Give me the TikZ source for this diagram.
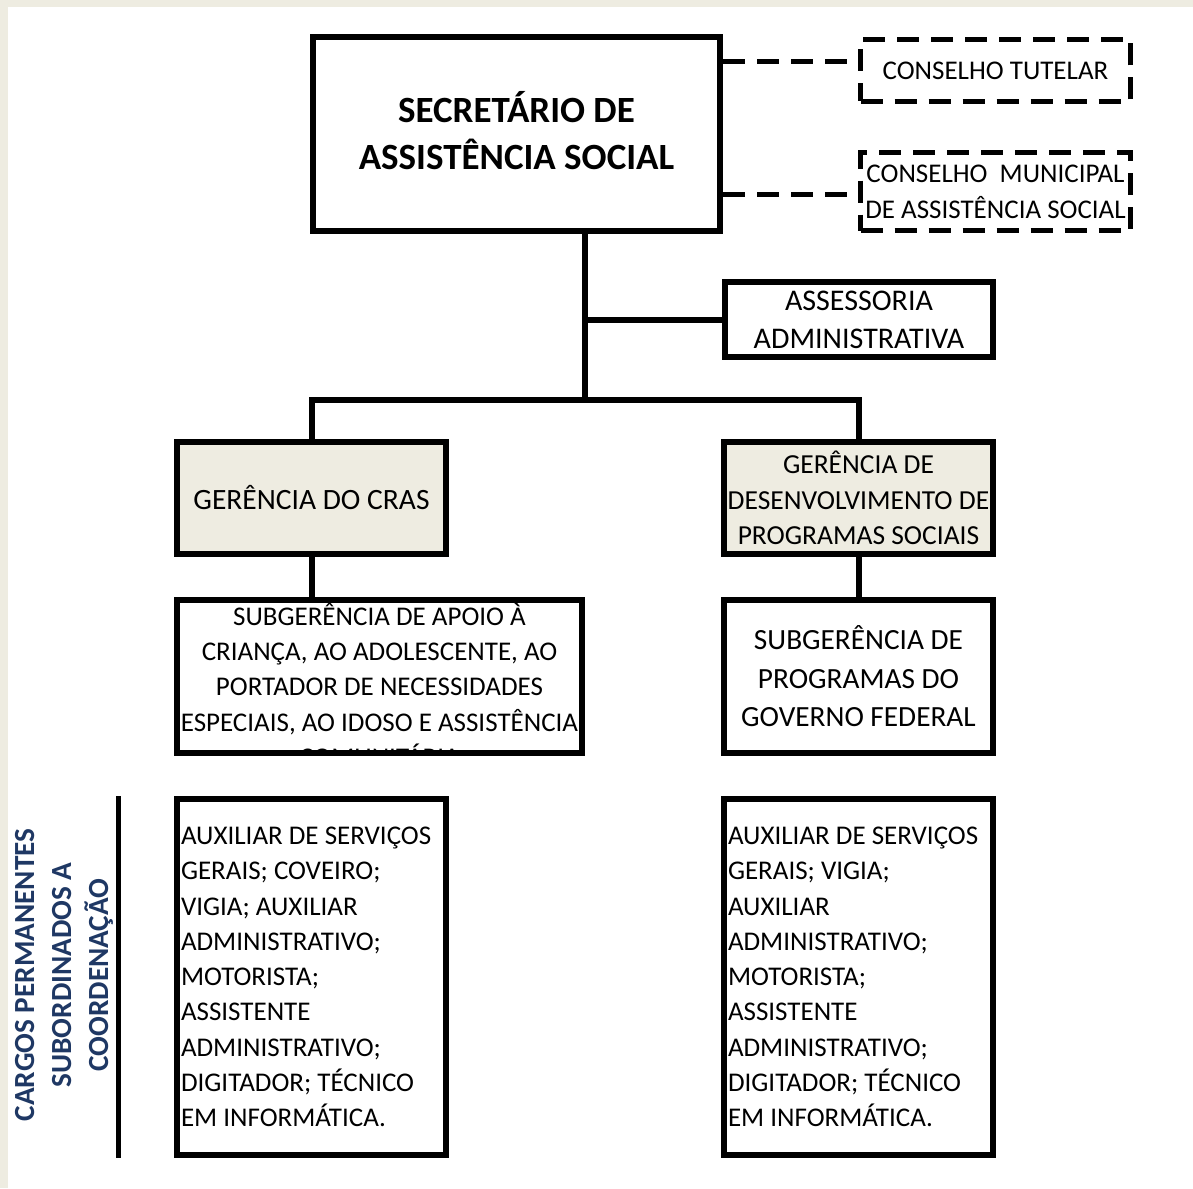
\documentclass[tikz,border=0pt]{standalone}
\usepackage{fontspec}
\setmainfont{Carlito}
\begin{document}
\frenchspacing
\definecolor{paper}{RGB}{238,236,225}
\definecolor{navy}{RGB}{31,56,100}
\begin{tikzpicture}[x=1pt,y=1pt,
  box/.style={draw, line width=6pt, rectangle, inner sep=0pt, align=center,
    font=\fontsize{27}{35.3}\selectfont},
  shaded/.style={box, fill=paper},
  dashbox/.style={box, line width=5pt, dash pattern=on 22pt off 12pt},
  listbox/.style={box, align=left, inner xsep=4pt, text width=261pt,
    execute at begin node={\spaceskip=6.1pt\relax}},
  link/.style={line width=6pt},
  dashlink/.style={line width=5pt, dash pattern=on 22pt off 12pt},
  sidetitle/.style={font=\fontsize{29.2}{37}\selectfont\bfseries, text=navy,
    align=center, rotate=90}]
% page with the tan frame strip along the top and left
\fill[paper] (0,0) rectangle (1193,-1188);
\fill[white] (8,-7) rectangle (1193,-1188);
\useasboundingbox (0,0) rectangle (1193,-1188);

% boxes
\node[box, minimum width=407pt, minimum height=194pt] (sec) at (516.5,-134) {};
\node[font=\fontsize{37}{47}\selectfont\bfseries, align=center, inner sep=0pt]
  (sectext) at ([yshift=3pt]sec.center) {SECRETÁRIO DE\\ASSISTÊNCIA SOCIAL};
\node[dashbox, minimum width=270pt, minimum height=62pt,
  font=\fontsize{27}{36}\selectfont] (tut) at (995.5,-70.5) {CONSELHO TUTELAR};
\node[dashbox, minimum width=270pt, minimum height=78pt,
  font=\fontsize{27}{36}\selectfont] (cmas) at (995.5,-191.5)
  {CONSELHO\ \ MUNICIPAL\\DE ASSISTÊNCIA SOCIAL};
\node[box, minimum width=268pt, minimum height=75pt,
  font=\fontsize{30}{38}\selectfont] (ass) at (859,-319.5)
  {ASSESSORIA\\ADMINISTRATIVA};
\node[shaded, minimum width=269pt, minimum height=112pt,
  font=\fontsize{29.5}{35.3}\selectfont] (cras) at (311.5,-498)
  {GERÊNCIA DO CRAS};
\node[shaded, minimum width=269pt, minimum height=112pt,
  font=\fontsize{27.5}{35.3}\selectfont] (dps) at (858.5,-498)
  {GERÊNCIA DE\\DESENVOLVIMENTO DE\\PROGRAMAS SOCIAIS};
\node[box, minimum width=405pt, minimum height=153pt] (subl) at (379.5,-676.5) {};
\node[box, minimum width=269pt, minimum height=153pt,
  font=\fontsize{29.3}{38.5}\selectfont] (subr) at (858.5,-676.5)
  {SUBGERÊNCIA DE\\PROGRAMAS DO\\GOVERNO FEDERAL};
\node[listbox, minimum height=356pt] (cargl) at (311.5,-977)
  {AUXILIAR DE SERVIÇOS\\GERAIS; COVEIRO;\\VIGIA; AUXILIAR\\ADMINISTRATIVO;\\MOTORISTA;\\ASSISTENTE\\ADMINISTRATIVO;\\DIGITADOR; TÉCNICO\\EM INFORMÁTICA.};
\node[listbox, minimum height=356pt] (cargr) at (858.5,-977)
  {AUXILIAR DE SERVIÇOS\\GERAIS; VIGIA;\\AUXILIAR\\ADMINISTRATIVO;\\MOTORISTA;\\ASSISTENTE\\ADMINISTRATIVO;\\DIGITADOR; TÉCNICO\\EM INFORMÁTICA.};

% overflowing text of the left sub-management box, cut at its border
\begin{scope}
  \clip ([shift={(3pt,3pt)}]subl.south west) rectangle ([shift={(-3pt,-3pt)}]subl.north east);
  \node[font=\fontsize{27}{35.3}\selectfont, align=center, anchor=north, inner sep=0pt]
    (subltext) at ([yshift=-5.5pt]subl.north)
    {SUBGERÊNCIA DE APOIO À\\CRIANÇA, AO ADOLESCENTE, AO\\PORTADOR DE NECESSIDADES\\ESPECIAIS, AO IDOSO E ASSISTÊNCIA\\COMUNITÁRIA};
\end{scope}

% hierarchy connectors
\coordinate (trunk) at (585,-400);
\draw[link] (sec.south -| trunk) -- (trunk);
\draw[link] (ass.west) -- (ass.west -| trunk);
\draw[link] (cras.north) |- (trunk) -| (dps.north);
\draw[link] (cras.south) -- (cras.south |- subl.north);
\draw[link] (dps.south) -- (subr.north);

% advisory councils
\coordinate (c1) at ([yshift=72pt]sec.east);
\coordinate (c2) at ([yshift=-60pt]sec.east);
\draw[dashlink] (c1) -- (c1 -| tut.west);
\draw[dashlink] (c2) -- (c2 -| cmas.west);

% side caption with its rule
\coordinate (rtop) at (118,-796);
\coordinate (rbot) at (118,-1158);
\draw[line width=5pt] (rtop) -- (rbot);
\node[sidetitle] (side) at (64,-975)
  {CARGOS PERMANENTES\\SUBORDINADOS A\\COORDENAÇÃO};
\end{tikzpicture}
\end{document}
